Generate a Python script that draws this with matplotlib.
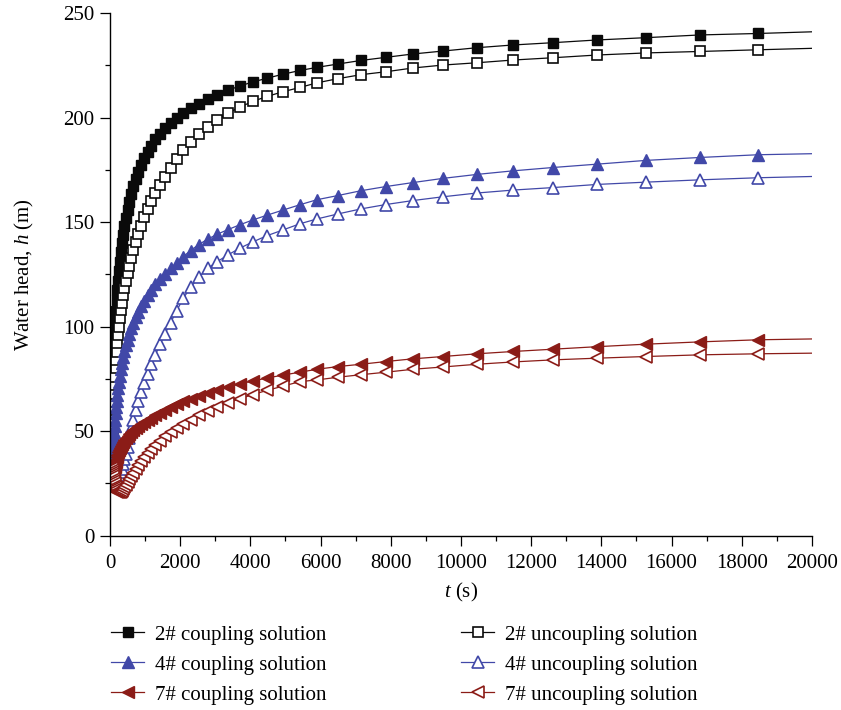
import matplotlib
matplotlib.use("Agg")
import matplotlib.pyplot as plt
from matplotlib.ticker import MultipleLocator

plt.rcParams['font.family'] = ['Liberation Serif', 'DejaVu Serif']
plt.rcParams['mathtext.fontset'] = 'custom'
plt.rcParams['mathtext.rm'] = 'Liberation Serif'
plt.rcParams['mathtext.it'] = 'Liberation Serif:italic'

# time steps (s)
t = [62, 68, 75, 82, 90, 99, 109, 120, 132, 145, 159, 175, 193, 212, 233, 256, 282, 310, 341, 376,
     413, 454, 500, 550, 605, 665, 732, 805, 885, 974, 1071, 1178, 1296, 1425, 1568, 1725, 1897, 2087,
     2296, 2525, 2778, 3056, 3361, 3697, 4067, 4474, 4921, 5413, 5897, 6496, 7151, 7863, 8632, 9487,
     10456, 11481, 12621, 13875, 15271, 16809, 18462, 20000]

# water head (m)
h2_coupling = [47, 53, 59, 64.8, 70.5, 76.1, 81.6, 87, 92.3, 97.5, 102.6, 107.6, 112.5, 117.3, 122, 126.6,
               131.1, 135.5, 139.8, 144, 148.1, 152.1, 156, 159.8, 163.5, 167.1, 170.6, 174, 177.3, 180.5,
               183.6, 186.6, 189.5, 192.3, 195, 197.6, 200, 202.2, 204.5, 206.7, 208.8, 211, 213, 215.1,
               217, 218.8, 220.7, 222.5, 224, 225.6, 227.3, 228.8, 230.4, 231.8, 233.4, 234.7, 235.8,
               237.1, 238.2, 239.5, 240.2, 241]
h2_uncoupling = [40, 44, 48, 52, 56, 60, 64, 68, 72, 76, 80, 84, 88, 92, 96, 100, 104, 108, 111.5, 115,
                 118.5, 122, 125.5, 129, 132.7, 136.5, 140.4, 144.4, 148.3, 152.2, 156.1, 160, 163.9,
                 167.7, 171.4, 176, 180.3, 184.5, 188.5, 192, 195.5, 198.8, 202.1, 205, 207.7, 210.1,
                 212.3, 214.4, 216.6, 218.6, 220.5, 221.9, 223.7, 225.1, 226.2, 227.5, 228.6, 229.9,
                 230.9, 231.6, 232.4, 233.1]
h4_coupling = [36, 37.5, 39, 40.5, 42.5, 44.5, 47, 49.5, 52.5, 55.5, 58.5, 61.5, 64.5, 67.5, 70.5, 73.5,
               76.5, 79.5, 82.5, 85.4, 88.2, 91, 93.7, 96.4, 99.1, 101.8, 104.5, 107.2, 109.8, 112.4,
               115, 117.6, 120.2, 122.8, 125.3, 127.8, 130.6, 133.5, 136.4, 139.2, 141.8, 144.2, 146.4,
               148.7, 151, 153.3, 155.7, 158.3, 160.7, 162.7, 165, 167, 168.9, 170.9, 172.8, 174.5,
               176.1, 177.7, 179.5, 180.9, 182.2, 182.7]
h4_uncoupling = [33, 32.2, 31.4, 30.6, 29.8, 29, 28.3, 27.6, 27, 26.5, 26.2, 26.1, 26.2, 26.5, 27, 27.8,
                 28.9, 30.3, 32, 34.2, 36.6, 39.3, 42.5, 46.5, 51, 55.5, 60, 64.4, 68.8, 73.1, 77.4,
                 81.9, 86.6, 91.5, 96.6, 101.8, 107.5, 113.5, 118.8, 123.5, 127.9, 131.1, 134.3, 137.5,
                 140.5, 143.5, 146.2, 149.2, 151.5, 153.9, 156.3, 158.4, 160.3, 162.1, 163.9, 165.3,
                 166.5, 168, 169.1, 170.2, 171.2, 171.8]
h7_coupling = [24, 25, 26.2, 27.2, 28.2, 29.2, 30.4, 31.6, 32.8, 34, 35.2, 36.4, 37.6, 38.8, 39.9, 41,
               42, 43, 44, 45, 46, 46.9, 47.8, 48.7, 49.6, 50.5, 51.4, 52.3, 53.2, 54.2, 55.2, 56.3,
               57.5, 58.7, 60, 61.4, 62.8, 64.2, 65.6, 67, 68.4, 69.8, 71.2, 72.6, 74, 75.4, 76.8, 78.2,
               79.6, 80.9, 82, 83.3, 84.6, 85.7, 87, 88.1, 89.2, 90.4, 91.6, 92.7, 93.7, 94.1]
h7_uncoupling = [33, 32.3, 31.5, 30.5, 29.5, 28.5, 27.3, 26.1, 25, 24, 23.1, 22.3, 21.6, 21.1, 20.8, 20.7,
                 20.8, 21.1, 21.6, 22.3, 23.2, 24.3, 25.5, 26.9, 28.4, 30, 31.8, 33.6, 35.5, 37.5, 39.5,
                 41.5, 43.5, 45.5, 47.5, 49.5, 51.5, 53.5, 55.5, 57.5, 59.5, 61.5, 63.5, 65.5, 67.5,
                 69.5, 71.5, 73.7, 74.5, 75.8, 77, 78.2, 79.6, 80.7, 82, 83.1, 84.1, 84.9, 85.7, 86.5,
                 87, 87.3]

labels_c = ['2# coupling solution', '4# coupling solution', '7# coupling solution']
labels_u = ['2# uncoupling solution', '4# uncoupling solution', '7# uncoupling solution']

black = '#0a0a0a'
blue = '#4148a8'
red = '#8b1c17'

fig = plt.figure(figsize=(8.41, 7.10), dpi=100)
ax = fig.add_axes([0.1308, 0.2455, 0.8347, 0.7362])

every = slice(0, len(t) - 1)  # last point at 20000 carries no marker
lw = 0.9
mew = 1.2

l2c, = ax.plot(t, h2_coupling, color=black, lw=lw, marker='s', ms=7, mfc=black, mec=black,
               markevery=every, label=labels_c[0])
l2u, = ax.plot(t, h2_uncoupling, color=black, lw=lw, marker='s', ms=7, mfc='white', mec=black,
               mew=mew, markevery=every, label=labels_u[0])
l4c, = ax.plot(t, h4_coupling, color=blue, lw=lw, marker='^', ms=8.5, mfc=blue, mec=blue,
               markevery=every, label=labels_c[1])
l4u, = ax.plot(t, h4_uncoupling, color=blue, lw=lw, marker='^', ms=8.5, mfc='white', mec=blue,
               mew=mew, markevery=every, label=labels_u[1])
l7c, = ax.plot(t, h7_coupling, color=red, lw=lw, marker='<', ms=8.5, mfc=red, mec=red,
               markevery=every, label=labels_c[2])
l7u, = ax.plot(t, h7_uncoupling, color=red, lw=lw, marker='<', ms=8.5, mfc='white', mec=red,
               mew=mew, markevery=every, label=labels_u[2])

ax.set_xlim(0, 20000)
ax.set_ylim(0, 250)
ax.xaxis.set_major_locator(MultipleLocator(2000))
ax.xaxis.set_minor_locator(MultipleLocator(1000))
ax.yaxis.set_major_locator(MultipleLocator(50))
ax.yaxis.set_minor_locator(MultipleLocator(25))
ax.spines['top'].set_visible(False)
ax.spines['right'].set_visible(False)
for s in ['left', 'bottom']:
    ax.spines[s].set_linewidth(1.0)
ax.tick_params(which='major', direction='out', length=7, width=0.9, labelsize=15)
ax.tick_params(axis='x', which='major', pad=6)
ax.tick_params(axis='y', which='major', pad=4)
ax.tick_params(which='minor', direction='out', length=3.5, width=0.9)

ax.set_xlabel('$t$ (s)', fontsize=15, labelpad=6)
ax.set_ylabel('Water head, $h$ (m)', fontsize=15, labelpad=20)

leg_kw = dict(loc='upper left', frameon=False, fontsize=15, handlelength=1.6,
              handletextpad=0.5, labelspacing=0.5, borderpad=0, borderaxespad=0)
leg1 = fig.legend(handles=[l2c, l4c, l7c], bbox_to_anchor=(111 / 841, 1 - 625 / 710), **leg_kw)
leg2 = fig.legend(handles=[l2u, l4u, l7u], bbox_to_anchor=(461 / 841, 1 - 625 / 710), **leg_kw)

fig.savefig('out.png', dpi=100)
